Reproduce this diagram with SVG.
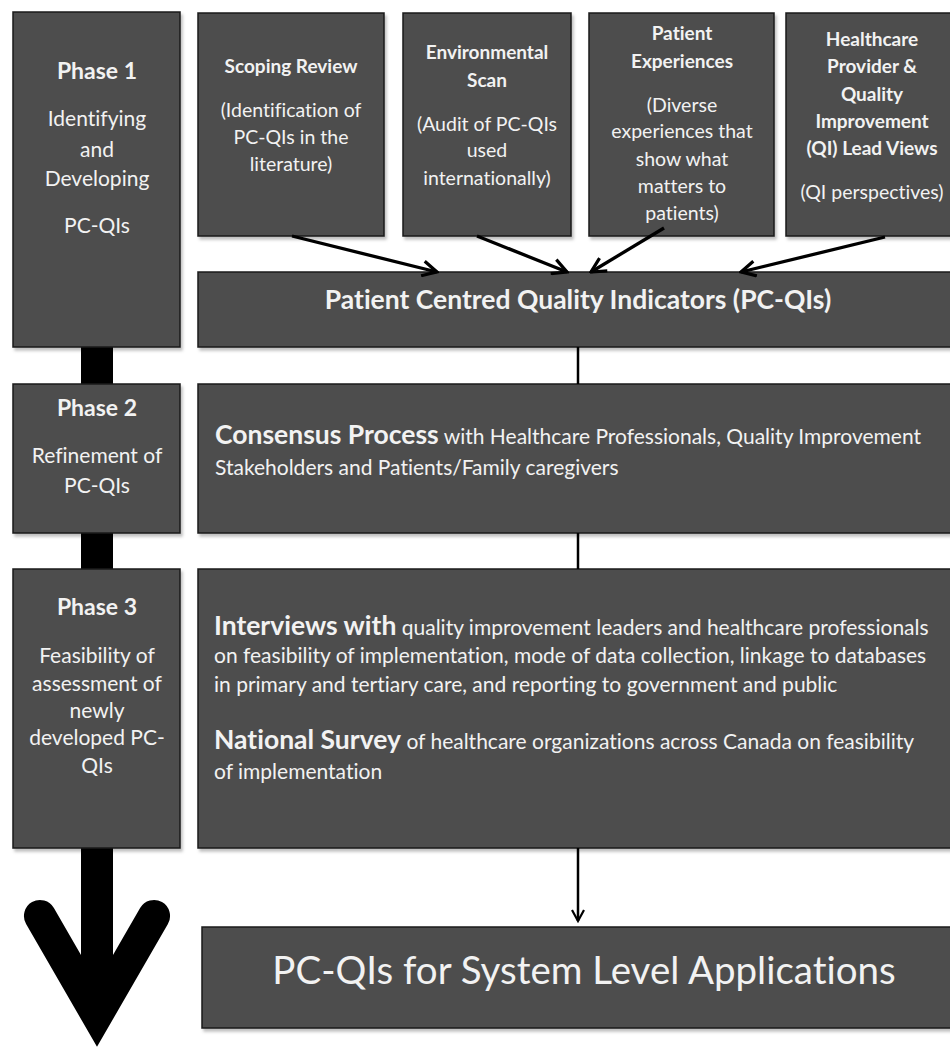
<svg xmlns="http://www.w3.org/2000/svg" width="950" height="1048" viewBox="0 0 950 1048">
<defs>
<filter id="sh" x="-5%" y="-5%" width="115%" height="125%">
<feDropShadow dx="2" dy="3" stdDeviation="1.5" flood-color="#000" flood-opacity="0.25"/>
</filter>
<marker id="ah" viewBox="0 0 18 18" refX="16" refY="9" markerWidth="18" markerHeight="18" markerUnits="userSpaceOnUse" orient="auto">
<path d="M1.5 1.5 L16 9 L1.5 16.5" fill="none" stroke="#000" stroke-width="3.2" stroke-linejoin="miter"/>
</marker>
<marker id="ah2" viewBox="0 0 14 14" refX="12" refY="7" markerWidth="14" markerHeight="14" markerUnits="userSpaceOnUse" orient="auto">
<path d="M1 1 L12 7 L1 13" fill="none" stroke="#000" stroke-width="2.2"/>
</marker>
</defs>
<style>
.box{fill:#4d4d4d;stroke:#1a1a1a;stroke-width:1.5;filter:url(#sh)}
text{font-family:Lato,"Open Sans","Liberation Sans",sans-serif;fill:#f2f2f2;font-variant-ligatures:none}
.ph{font-size:23px;font-weight:bold;text-anchor:middle}
.pt{font-size:21px;text-anchor:middle}
.st{font-size:19px;font-weight:bold;text-anchor:middle}
.ss{font-size:19.5px;text-anchor:middle}
.big{font-size:26.5px;font-weight:bold}
.reg{font-size:21px}
.conn{stroke:#000;stroke-width:3.3;fill:none}
.vline{stroke:#000;stroke-width:2.5;fill:none}
</style>
<rect width="950" height="1048" fill="#fff"/>

<g id="phase-arrow">
<path d="M81 340 L81 955 L53.9 908 A16 16 0 0 0 26.1 924 L97 1046.8 L167.9 924 A16 16 0 0 0 140.1 908 L113 955 L113 340 Z" fill="#000"/>
</g>

<g id="phase1">
<rect class="box" x="13" y="12" width="167" height="335"/>
<text class="ph" x="97" y="79">Phase 1</text>
<text class="pt" x="97" y="126">Identifying</text>
<text class="pt" x="97" y="157">and</text>
<text class="pt" x="97" y="186">Developing</text>
<text class="pt" x="97" y="233">PC-QIs</text>
</g>

<g id="scoping">
<rect class="box" x="198" y="13" width="186" height="223"/>
<text class="st" x="291" y="73">Scoping Review</text>
<text class="ss" x="291" y="117">(Identification of</text>
<text class="ss" x="291" y="144">PC-QIs in the</text>
<text class="ss" x="291" y="171">literature)</text>
</g>

<g id="envscan">
<rect class="box" x="403" y="13" width="168" height="223"/>
<text class="st" x="487" y="59">Environmental</text>
<text class="st" x="487" y="87">Scan</text>
<text class="ss" x="487" y="131">(Audit of PC-QIs</text>
<text class="ss" x="487" y="157">used</text>
<text class="ss" x="487" y="185">internationally)</text>
</g>

<g id="patientexp">
<rect class="box" x="589" y="13" width="185" height="223"/>
<text class="st" x="682" y="40">Patient</text>
<text class="st" x="682" y="68">Experiences</text>
<text class="ss" x="682" y="112">(Diverse</text>
<text class="ss" x="682" y="138">experiences that</text>
<text class="ss" x="682" y="166">show what</text>
<text class="ss" x="682" y="193">matters to</text>
<text class="ss" x="682" y="220">patients)</text>
</g>

<g id="providers">
<rect class="box" x="786" y="13" width="175" height="223"/>
<text class="st" x="872" y="46">Healthcare</text>
<text class="st" x="872" y="73">Provider &amp;</text>
<text class="st" x="872" y="101">Quality</text>
<text class="st" x="872" y="128">Improvement</text>
<text class="st" x="872" y="155">(QI) Lead Views</text>
<text class="ss" x="872" y="199">(QI perspectives)</text>
</g>

<g id="pcqis">
<rect class="box" x="198" y="272" width="762" height="75"/>
<text x="578" y="309" text-anchor="middle" font-size="26.5" font-weight="bold">Patient Centred Quality Indicators (PC-QIs)</text>
</g>

<g id="phase2">
<rect class="box" x="13" y="384" width="167" height="149"/>
<text class="ph" x="97" y="416">Phase 2</text>
<text class="pt" x="97" y="463">Refinement of</text>
<text class="pt" x="97" y="493">PC-QIs</text>
</g>

<g id="consensus">
<rect class="box" x="198" y="384" width="762" height="149"/>
<text x="215" y="444"><tspan class="big">Consensus Process</tspan><tspan class="reg"> with Healthcare Professionals, Quality Improvement</tspan></text>
<text class="reg" x="215" y="475">Stakeholders and Patients/Family caregivers</text>
</g>

<g id="phase3">
<rect class="box" x="13" y="569" width="167" height="279"/>
<text class="ph" x="97" y="615">Phase 3</text>
<text class="pt" x="97" y="663">Feasibility of</text>
<text class="pt" x="97" y="691">assessment of</text>
<text class="pt" x="97" y="718">newly</text>
<text class="pt" x="97" y="745">developed PC-</text>
<text class="pt" x="97" y="773">QIs</text>
</g>

<g id="feasibility">
<rect class="box" x="198" y="569" width="762" height="279"/>
<text x="214" y="635"><tspan class="big">Interviews with</tspan><tspan class="reg"> quality improvement leaders and healthcare professionals</tspan></text>
<text class="reg" x="214" y="663">on feasibility of implementation, mode of data collection, linkage to databases</text>
<text class="reg" x="214" y="692">in primary and tertiary care, and reporting to government and public</text>
<text x="214" y="749"><tspan class="big">National Survey</tspan><tspan class="reg"> of healthcare organizations across Canada on feasibility</tspan></text>
<text class="reg" x="214" y="779">of implementation</text>
</g>

<g id="system">
<rect class="box" x="202" y="927" width="764" height="101"/>
<text x="584" y="984" text-anchor="middle" font-size="38.5">PC-QIs for System Level Applications</text>
</g>

<g id="connectors">
<line class="conn" x1="292" y1="236" x2="437" y2="272" marker-end="url(#ah)"/>
<line class="conn" x1="477" y1="236" x2="567" y2="272" marker-end="url(#ah)"/>
<line class="conn" x1="664" y1="228" x2="591" y2="272" marker-end="url(#ah)"/>
<line class="conn" x1="885" y1="237" x2="741" y2="272" marker-end="url(#ah)"/>
<line class="vline" x1="578" y1="347" x2="578" y2="384"/>
<line class="vline" x1="578" y1="533" x2="578" y2="569"/>
<line class="vline" x1="578" y1="848" x2="578" y2="921" marker-end="url(#ah2)"/>
</g>
</svg>
